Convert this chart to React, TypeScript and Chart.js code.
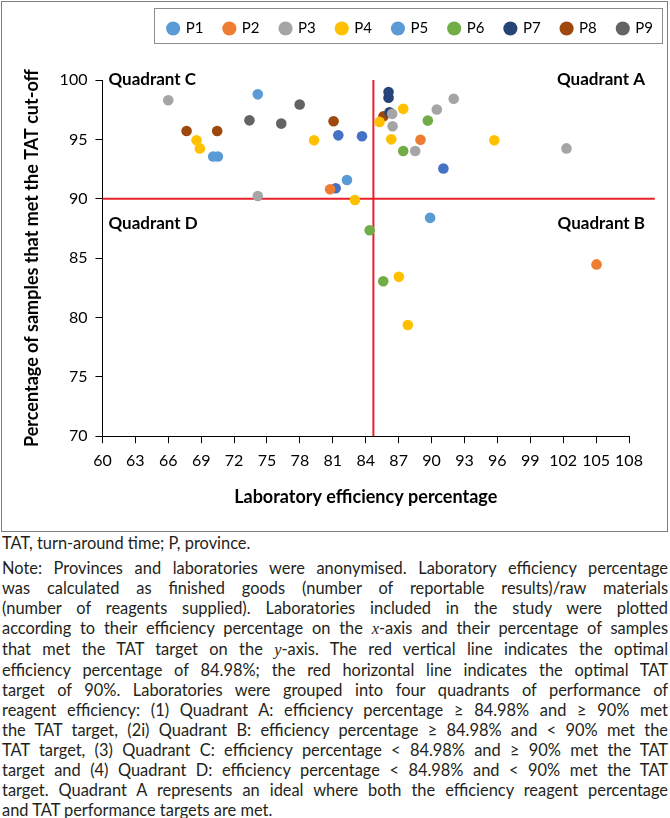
import React, { useEffect, useRef } from 'react';
import { Chart, registerables } from 'chart.js';

Chart.register(...registerables);

const provinces = ['P1', 'P2', 'P3', 'P4', 'P5', 'P6', 'P7', 'P8', 'P9'];
const pointColors = ['#5B9BD5', '#ED7D31', '#A5A5A5', '#FFC000', '#4472C4', '#70AD47', '#264478', '#9E480E', '#636363'];
const legendColors = ['#5B9BD5', '#ED7D31', '#A5A5A5', '#FFC000', '#5B9BD5', '#70AD47', '#264478', '#9E480E', '#636363'];

// Laboratory efficiency (%) and % samples meeting TAT, per province
const p1X = [74.16, 70.1, 70.52, 82.29, 89.87];
const p1Y = [98.79, 93.56, 93.56, 91.58, 88.39];
const p2X = [88.99, 80.75, 105.04];
const p2Y = [94.97, 90.8, 84.47];
const p3X = [66.0, 74.16, 86.41, 86.45, 90.48, 92.02, 88.51, 102.3];
const p3Y = [98.3, 90.23, 97.15, 96.1, 97.52, 98.42, 94.02, 94.24];
const p4X = [68.58, 68.88, 79.29, 85.26, 87.42, 86.33, 83.02, 87.02, 87.84, 95.72];
const p4Y = [94.92, 94.24, 94.92, 96.47, 97.57, 95.0, 89.89, 83.42, 79.36, 94.92];
const p5X = [81.5, 83.66, 81.26, 91.08];
const p5Y = [95.34, 95.26, 90.88, 92.55];
const p6X = [89.66, 87.42, 84.36, 85.6];
const p6Y = [96.58, 94.02, 87.35, 83.05];
const p7X = [86.08, 86.08, 86.17];
const p7Y = [98.98, 98.5, 97.29];
const p8X = [67.67, 70.46, 81.07, 85.62];
const p8Y = [95.71, 95.71, 96.53, 96.95];
const p9X = [73.4, 76.3, 77.98];
const p9Y = [96.6, 96.33, 97.94];

const seriesX = [p1X, p2X, p3X, p4X, p5X, p6X, p7X, p8X, p9X];
const seriesY = [p1Y, p2Y, p3Y, p4Y, p5Y, p6Y, p7Y, p8Y, p9Y];

const efficiencyCutoff = 84.7;
const tatCutoff = 90;
const xMin = 60;
const xMax = 108;
const xStep = 3;
const yMin = 70;
const yMax = 100;
const yStep = 5;
const hLineEnd = 110.35;

const quadrantLabels = ['Quadrant A', 'Quadrant B', 'Quadrant C', 'Quadrant D'];

const noteLines = [
  'Note: Provinces and laboratories were anonymised. Laboratory efficiency percentage',
  'was calculated as finished goods (number of reportable results)/raw materials',
  '(number of reagents supplied). Laboratories included in the study were plotted',
  'according to their efficiency percentage on the x-axis and their percentage of samples',
  'that met the TAT target on the y-axis. The red vertical line indicates the optimal',
  'efficiency percentage of 84.98%; the red horizontal line indicates the optimal TAT',
  'target of 90%. Laboratories were grouped into four quadrants of performance of',
  'reagent efficiency: (1) Quadrant A: efficiency percentage \u2265 84.98% and \u2265 90% met',
  'the TAT target, (2i) Quadrant B: efficiency percentage \u2265 84.98% and < 90% met the',
  'TAT target, (3) Quadrant C: efficiency percentage < 84.98% and \u2265 90% met the TAT',
  'target and (4) Quadrant D: efficiency percentage < 84.98% and < 90% met the TAT',
  'target. Quadrant A represents an ideal where both the efficiency reagent percentage',
  'and TAT performance targets are met.',
];

const FONT = 'Lato, "Open Sans", sans-serif';

function renderLine(line: string) {
  const parts = line.split(/(x-axis|y-axis)/);
  return parts.map((p, i) => {
    if (p === 'x-axis' || p === 'y-axis') {
      return (
        <React.Fragment key={i}>
          <i style={{ fontFamily: '"Liberation Serif", "DejaVu Serif", serif' }}>{p[0]}</i>
          {p.slice(1)}
        </React.Fragment>
      );
    }
    return <React.Fragment key={i}>{p}</React.Fragment>;
  });
}

const decorPlugin = {
  id: 'decor',
  beforeInit(chart: any) {
    const legend = chart.legend;
    if (legend && !legend.__patched) {
      const origFit = legend.fit;
      legend.fit = function () {
        origFit.call(this);
        this.height += 34;
      };
      legend.__patched = true;
    }
  },
  afterLayout(chart: any) {
    const lg = chart.legend;
    if (lg) {
      lg.right = 674;
    }
  },
  beforeDraw(chart: any) {
    const ctx = chart.ctx;
    ctx.save();
    ctx.fillStyle = '#ffffff';
    ctx.fillRect(0, 0, chart.width, chart.height);
    ctx.strokeStyle = '#7f7f7f';
    ctx.lineWidth = 1;
    ctx.strokeRect(1.5, 1.5, 666, 530);
    ctx.strokeStyle = '#8c8c8c';
    ctx.strokeRect(154.5, 8.5, 508, 35);
    ctx.restore();
  },
  afterDatasetsDraw(chart: any) {
    const ctx = chart.ctx;
    const { left, top, right } = chart.chartArea;
    const y90 = chart.scales.y.getPixelForValue(tatCutoff);
    ctx.save();
    ctx.font = 'bold 17px ' + FONT;
    ctx.fillStyle = '#000';
    ctx.textBaseline = 'middle';
    ctx.textAlign = 'right';
    ctx.fillText(quadrantLabels[0], right + 16, top);
    ctx.fillText(quadrantLabels[1], right + 16, y90 + 25);
    ctx.textAlign = 'left';
    ctx.fillText(quadrantLabels[2], left + 6, top);
    ctx.fillText(quadrantLabels[3], left + 6, y90 + 25);
    ctx.restore();
  },
};

export default function App() {
  const ref = useRef<HTMLCanvasElement>(null);

  useEffect(() => {
    if (!ref.current) return;
    const scatterSets = provinces.map((name, i) => ({
      type: 'scatter' as const,
      label: name,
      data: seriesX[i].map((x, j) => ({ x, y: seriesY[i][j] })),
      backgroundColor: pointColors[i],
      borderColor: pointColors[i],
      borderWidth: 0,
      pointRadius: 5.3,
      pointHoverRadius: 5.3,
      pointStyle: 'circle',
    }));
    const lineSets = [
      {
        type: 'line' as const,
        label: 'efficiency cut-off',
        data: [
          { x: efficiencyCutoff, y: yMax },
          { x: efficiencyCutoff, y: yMin },
        ],
        borderColor: '#E8202A',
        borderWidth: 2,
        pointRadius: 0,
        showLine: true,
        fill: false,
      },
      {
        type: 'line' as const,
        label: 'TAT cut-off',
        data: [
          { x: xMin, y: tatCutoff },
          { x: hLineEnd, y: tatCutoff },
        ],
        borderColor: '#E8202A',
        borderWidth: 2,
        pointRadius: 0,
        showLine: true,
        fill: false,
        clip: false as any,
      },
    ];

    const chart = new Chart(ref.current, {
      type: 'scatter',
      data: { datasets: [...scatterSets, ...lineSets] as any },
      plugins: [decorPlugin as any],
      options: {
        responsive: false,
        animation: false,
        layout: { padding: { left: 21, right: 41, top: 0, bottom: 25 } },
        plugins: {
          tooltip: { enabled: false },
          legend: {
            position: 'top',
            align: 'end',
            labels: {
              usePointStyle: true,
              pointStyle: 'circle',
              boxWidth: 10,
              boxHeight: 10,
              padding: 21,
              color: '#000',
              font: { family: FONT, size: 15 },
              filter: (item: any) => provinces.includes(item.text),
              generateLabels: (c: any) => {
                const items = (Chart.defaults.plugins.legend.labels as any).generateLabels(c);
                return items.map((it: any) => {
                  const idx = provinces.indexOf(it.text);
                  if (idx >= 0) {
                    it.fillStyle = legendColors[idx];
                    it.strokeStyle = legendColors[idx];
                    it.lineWidth = 0;
                  }
                  return it;
                });
              },
            },
          },
        },
        scales: {
          x: {
            type: 'linear',
            min: xMin,
            max: xMax,
            ticks: {
              stepSize: xStep,
              autoSkip: false,
              maxRotation: 0,
              color: '#000',
              padding: 8,
              font: { family: FONT, size: 16 },
            },
            grid: { drawOnChartArea: false, drawTicks: true, tickLength: 7, color: '#000' },
            border: { display: true, color: '#000', width: 1 },
            title: {
              display: true,
              text: 'Laboratory efficiency percentage',
              color: '#000',
              font: { family: FONT, size: 18, weight: 'bold' },
              padding: { top: 8, bottom: 0 },
            },
          },
          y: {
            type: 'linear',
            min: yMin,
            max: yMax,
            ticks: {
              stepSize: yStep,
              color: '#000',
              padding: 8,
              font: { family: FONT, size: 16 },
            },
            grid: { drawOnChartArea: false, drawTicks: true, tickLength: 7, color: '#000' },
            border: { display: true, color: '#000', width: 1 },
            title: {
              display: true,
              text: 'Percentage of samples that met the TAT cut-off',
              color: '#000',
              font: { family: FONT, size: 18, weight: 'bold' },
              padding: { top: 0, bottom: 9 },
            },
          },
        },
      },
    });
    return () => chart.destroy();
  }, []);

  return (
    <div style={{ position: 'absolute', left: 0, top: 0, width: 670, background: '#fff' }}>
      <canvas ref={ref} width={670} height={533} style={{ display: 'block' }} />
      <div style={{ fontFamily: FONT, fontSize: 16.4, color: '#231f20', lineHeight: '20px', padding: '0 2px' }}>
        <div>TAT, turn-around time; P, province.</div>
        <div style={{ marginTop: 5 }}>
          {noteLines.map((l, i) => (
            <div
              key={i}
              style={{
                textAlign: 'justify',
                textAlignLast: i < noteLines.length - 1 ? 'justify' : 'left',
                whiteSpace: 'nowrap',
              }}
            >
              {renderLine(l)}
            </div>
          ))}
        </div>
      </div>
    </div>
  );
}
